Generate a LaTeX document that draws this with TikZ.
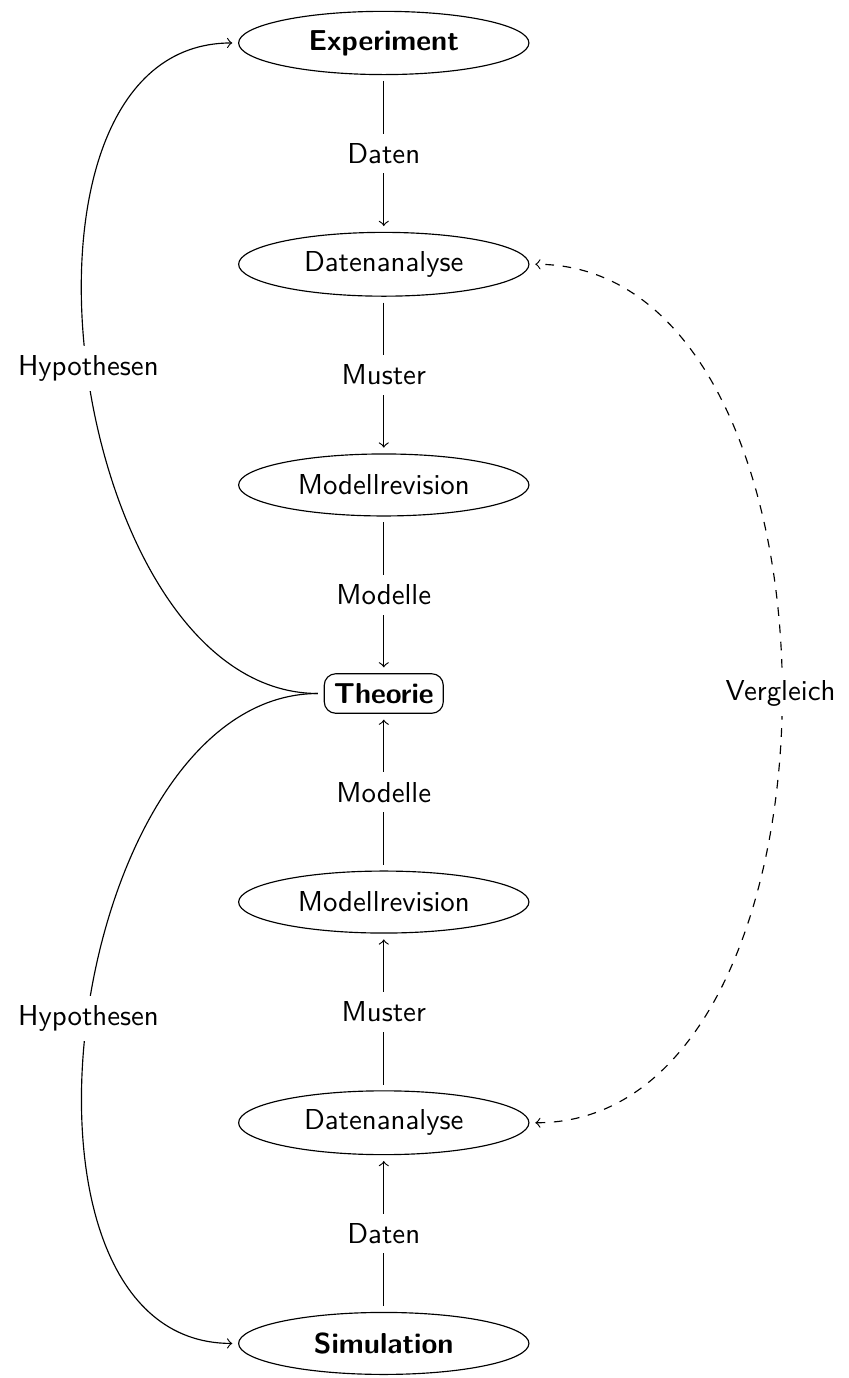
\documentclass[tikz,border=0pt]{standalone}
\usetikzlibrary{positioning, shapes.geometric}

\begin{document}
\begin{tikzpicture}[
  node distance=1.91cm,
  stage/.style={draw, ellipse, minimum width=3.54cm, minimum height=0.756cm, font=\sffamily},
  corebox/.style={draw, rounded corners, font=\sffamily\bfseries},
  lbl/.style={fill=white, font=\sffamily},
  flow/.style={->, shorten >=2pt, shorten <=2pt}
]
\useasboundingbox (-4.68,0.524) rectangle (5.67,-16.28);

% Upper branch: Experiment
\node[stage, font=\sffamily\bfseries] (exp) {Experiment};
\node[stage, below=of exp] (anaE) {Datenanalyse};
\node[stage, below=of anaE] (revE) {Modellrevision};
\node[corebox, below=of revE] (theo) {Theorie};

% Lower branch: Simulation
\node[stage, below=of theo] (revS) {Modellrevision};
\node[stage, below=of revS] (anaS) {Datenanalyse};
\node[stage, below=of anaS, font=\sffamily\bfseries] (sim) {Simulation};

% Vertical flows
\draw[flow] (exp) -- node[lbl] {Daten} (anaE);
\draw[flow] (anaE) -- node[lbl] {Muster} (revE);
\draw[flow] (revE) -- node[lbl] {Modelle} (theo);
\draw[flow] (sim) -- node[lbl] {Daten} (anaS);
\draw[flow] (anaS) -- node[lbl] {Muster} (revS);
\draw[flow] (revS) -- node[lbl] {Modelle} (theo);

% Hypotheses back to the sources
\draw[flow] (theo.west) to[out=180, in=180] node[lbl] {Hypothesen} (exp.west);
\draw[flow] (theo.west) to[out=180, in=180] node[lbl] {Hypothesen} (sim.west);

% Comparison of both analyses
\draw[flow, <->, dashed] (anaS.east) to[out=0, in=0] node[lbl] {Vergleich} (anaE.east);
\end{tikzpicture}
\end{document}
